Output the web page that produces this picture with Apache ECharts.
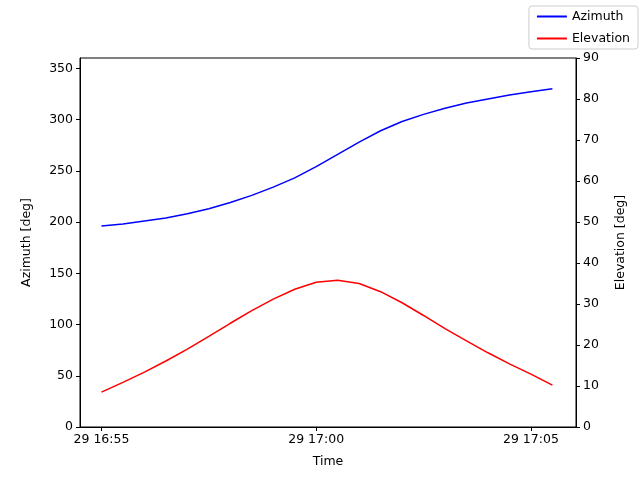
<!DOCTYPE html>
<html><head><meta charset="utf-8">
<script src="https://cdn.jsdelivr.net/npm/echarts@6/dist/echarts.min.js"></script>
<style>body{margin:0}#c{width:640px;height:480px}</style></head>
<body><div id="c"></div>
<script>
// minutes after 16:55, every 30 s
const minutes = [0,0.5,1,1.5,2,2.5,3,3.5,4,4.5,5,5.5,6,6.5,7,7.5,8,8.5,9,9.5,10,10.5];
const azimuth = [196,198,201,204,208,213,219,226,234,243,254,266,278,289,298,305,311,316,320,324,327,330];
const elevation = [8.5,10.9,13.4,16.1,19.0,22.1,25.3,28.4,31.2,33.6,35.3,35.8,35.0,33.0,30.3,27.2,24.0,21.0,18.1,15.4,12.9,10.2];
const timeTicks = [0,5,10];
const timeLabels = ['29 16:55','29 17:00','29 17:05'];
const azTicks = [0,50,100,150,200,250,300,350];

const font = {fontFamily:'DejaVu Sans',fontSize:12.5,color:'#000'};
const chart = echarts.init(document.getElementById('c'));
chart.setOption({
  animation:false,
  textStyle:{fontFamily:'DejaVu Sans'},
  grid:{left:80,right:64,top:58,bottom:53,show:true,borderColor:'#000',borderWidth:1},
  legend:{right:2,top:6,orient:'vertical',itemWidth:30,itemHeight:2,itemGap:9,
    borderColor:'#ccc',borderWidth:1,borderRadius:3,padding:[4,8],
    textStyle:{...font},icon:'rect',
    data:['Azimuth','Elevation']},
  xAxis:{type:'value',min:-0.5,max:11.05,name:'Time',nameLocation:'middle',nameGap:28,
    nameTextStyle:font,splitLine:{show:false},
    axisLine:{onZero:false,lineStyle:{color:'#000'}},
    axisTick:{customValues:timeTicks,length:4,lineStyle:{color:'#000'}},
    axisLabel:{customValues:timeTicks,...font,margin:6,
      formatter:v=>timeLabels[timeTicks.indexOf(v)]}},
  yAxis:[
    {type:'value',min:0,max:360,name:'Azimuth [deg]',nameLocation:'middle',nameGap:47,
     nameTextStyle:font,splitLine:{show:false},
     axisLine:{show:true,onZero:false,lineStyle:{color:'#000'}},
     axisTick:{show:true,customValues:azTicks,length:4,lineStyle:{color:'#000'}},
     axisLabel:{customValues:azTicks,...font,margin:7}},
    {type:'value',min:0,max:90,interval:10,name:'Elevation [deg]',nameLocation:'middle',nameGap:38,
     nameTextStyle:font,splitLine:{show:false},
     axisLine:{show:true,onZero:false,lineStyle:{color:'#000'}},
     axisTick:{show:true,length:4,lineStyle:{color:'#000'}},
     axisLabel:{...font,margin:7}}
  ],
  series:[
    {name:'Azimuth',type:'line',yAxisIndex:0,showSymbol:false,color:'#0000ff',
     lineStyle:{width:1.5},data:minutes.map((m,i)=>[m,azimuth[i]])},
    {name:'Elevation',type:'line',yAxisIndex:1,showSymbol:false,color:'#ff0000',
     lineStyle:{width:1.5},data:minutes.map((m,i)=>[m,elevation[i]])}
  ]
});
</script></body></html>
